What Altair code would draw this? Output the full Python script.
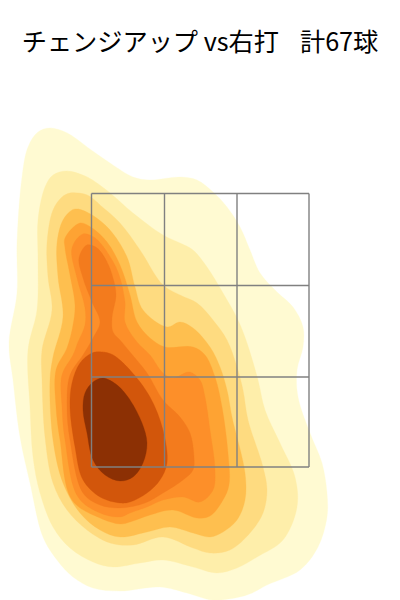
import altair as alt
import pandas as pd

title_text = "チェンジアップ vs右打\u2002\u2004計67球"

band_1 = [(50,128),(67,133),(87,147),(110,163),(133,177),(150,180),(180,177),(197,180),(213,192),(227,207),(240,227),(250,250),(260,273),(277,292),(293,307),(303,327),(303,347),(297,370),(298,397),(310,433),(322,463),(327,493),(327,517),(318,547),(300,570),(267,585),(247,595),(213,600),(187,593),(160,587),(120,591),(93,588),(73,577),(57,560),(43,537),(30,483),(20,437),(13,380),(9,343),(17,293),(17,243),(22,177),(28,147),(38,132)]
band_2 = [(67,171),(87,177),(110,193),(133,213),(163,235),(180,243),(193,250),(207,267),(223,293),(238,320),(247,343),(258,380),(265,410),(280,443),(295,477),(297,507),(283,540),(257,557),(237,568),(217,573),(193,567),(163,560),(140,563),(113,567),(93,562),(70,548),(53,527),(40,493),(33,457),(30,407),(28,350),(37,310),(38,260),(38,220),(45,187),(53,175)]
band_3 = [(70,193),(87,195),(100,205),(120,223),(140,250),(163,285),(180,295),(197,303),(213,320),(227,340),(237,367),(243,390),(248,420),(263,467),(267,490),(263,513),(250,533),(230,550),(210,553),(193,548),(163,537),(133,545),(110,543),(87,530),(67,510),(53,483),(45,437),(42,380),(42,350),(52,310),(48,277),(47,243),(53,210),(62,197)]
band_4 = [(78,209),(92,215),(110,230),(127,257),(135,287),(143,310),(167,327),(180,322),(193,328),(210,347),(220,367),(227,390),(232,417),(245,473),(245,500),(237,520),(223,532),(210,537),(193,533),(170,527),(147,532),(120,537),(100,530),(80,513),(63,483),(53,440),(50,380),(53,357),(63,317),(58,277),(57,243),(63,220),(72,210)]
band_5 = [(80,223),(92,228),(107,242),(120,265),(130,295),(137,322),(150,338),(165,347),(193,347),(205,355),(215,377),(222,407),(228,453),(229,485),(223,500),(210,516),(197,518),(173,510),(150,515),(130,522),(120,524),(100,518),(72,500),(60,440),(56,407),(56,370),(67,348),(73,325),(75,305),(70,275),(65,248),(65,238)]
band_6 = [(83,234),(95,238),(107,252),(118,272),(125,302),(125,322),(137,342),(150,355),(163,373),(173,378),(189,372),(200,380),(205,397),(210,430),(215,470),(213,490),(200,502),(183,497),(163,500),(147,507),(130,513),(120,517),(100,513),(78,497),(65,440),(62,407),(62,375),(73,355),(78,342),(85,325),(85,308),(77,278),(72,248)]
band_7 = [(87,245),(97,248),(107,262),(113,278),(116,295),(112,318),(113,332),(120,340),(130,352),(147,373),(163,400),(180,417),(190,433),(194,457),(193,470),(183,480),(163,493),(145,503),(120,508),(100,505),(83,493),(70,440),(67,407),(70,375),(83,355),(93,338),(100,322),(92,302),(83,278),(79,258)]
band_8 = [(102,352),(113,355),(130,370),(150,397),(163,430),(167,463),(160,480),(147,493),(130,502),(120,503),(100,497),(83,480),(75,447),(70,407),(72,383),(80,363),(92,353)]
band_9 = [(103,378),(117,385),(130,400),(142,423),(147,443),(143,463),(133,477),(120,481),(105,475),(93,460),(87,433),(83,410),(85,393),(93,382)]

bands = [band_1, band_2, band_3, band_4, band_5, band_6, band_7, band_8, band_9]
band_colors = ["#FFFAD2", "#FEEEAA", "#FEDB80", "#FEBF4F", "#FEA333", "#FD8F29", "#F37B1D", "#D2560B", "#8C3004"]

zone_x = [91.5, 164.5, 237, 309]
zone_y = [193.5, 285.5, 377, 467]

x_scale = alt.Scale(domain=[8, 392], nice=False, zero=False)
y_scale = alt.Scale(domain=[600, 68], nice=False, zero=False)

layers = []
for points, colour in zip(bands, band_colors):
    loop = points + points[:3]
    df = pd.DataFrame(loop, columns=["x", "y"])
    df["i"] = range(len(df))
    layers.append(
        alt.Chart(df).mark_line(
            interpolate="catmull-rom", fill=colour, stroke=colour,
            strokeWidth=0.3, clip=True,
        ).encode(
            x=alt.X("x:Q", scale=x_scale, axis=None),
            y=alt.Y("y:Q", scale=y_scale, axis=None),
            order="i:Q",
        )
    )

v_df = pd.DataFrame({"x": zone_x, "y": [zone_y[0]] * 4, "y2": [zone_y[-1]] * 4})
h_df = pd.DataFrame({"y": zone_y, "x": [zone_x[0]] * 4, "x2": [zone_x[-1]] * 4})
layers.append(
    alt.Chart(v_df).mark_rule(color="#808080", strokeWidth=1.4).encode(
        x=alt.X("x:Q", scale=x_scale, axis=None),
        y=alt.Y("y:Q", scale=y_scale, axis=None),
        y2="y2:Q",
    )
)
layers.append(
    alt.Chart(h_df).mark_rule(color="#808080", strokeWidth=1.4).encode(
        x=alt.X("x:Q", scale=x_scale, axis=None),
        x2="x2:Q",
        y=alt.Y("y:Q", scale=y_scale, axis=None),
    )
)

chart = alt.layer(*layers).properties(
    width=384,
    height=532,
    padding={"left": 0, "top": 60, "right": 0, "bottom": 0},
    autosize=alt.AutoSizeParams(type="none"),
    title=alt.TitleParams(
        text=title_text, font="Noto Sans CJK JP", fontSize=25.2, fontWeight="normal",
        color="#000000", anchor="middle", offset=-13, baseline="bottom",
    ),
).configure_view(stroke=None)

chart.save("out.html", embed_options={"renderer": "svg", "actions": False})
